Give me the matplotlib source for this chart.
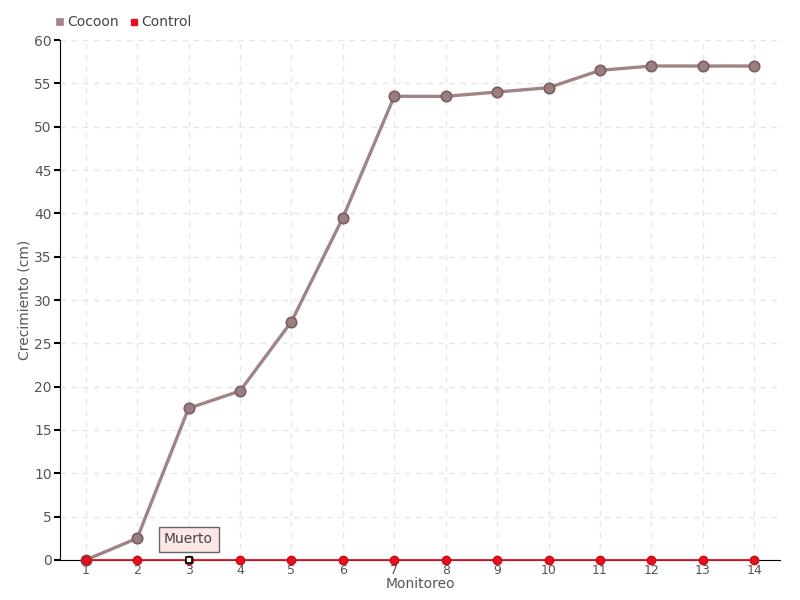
import matplotlib
matplotlib.use("Agg")
import matplotlib.pyplot as plt
import numpy as np

monitoreo = list(range(1, 15))
cocoon = [0, 2.5, 17.5, 19.5, 27.5, 39.5, 53.5, 53.5, 54, 54.5, 56.5, 57, 57, 57]
control = [0] * 14
annot_label = "Muerto"
annot_index = 2

plt.rcParams['font.family'] = ['DejaVu Sans']
fig = plt.figure(figsize=(8, 6), dpi=100)
ax = fig.add_axes([0.075, 0.0667, 0.9, 0.8666])

ax.set_xlim(0.5, 14.5)
ax.set_ylim(0, 60)
ax.set_xticks(monitoreo)
ax.set_yticks(np.arange(0, 61, 5))
ax.grid(True, color='#e6e6e6', linestyle=(0, (4, 4)), linewidth=1)
ax.set_axisbelow(True)
for s in ['top', 'right']:
    ax.spines[s].set_visible(False)
ax.spines['left'].set_color('black')
ax.spines['bottom'].set_color('black')
ax.tick_params(axis='y', length=4, width=1.5, colors='black', labelcolor='#555555', labelsize=10, pad=2)
ax.tick_params(axis='x', length=0, labelcolor='#555555', labelsize=9, pad=3)

ax.plot(monitoreo, cocoon, color='#a08486', linewidth=2.4, marker='o', markersize=7.5,
        markerfacecolor='#9c7e80', markeredgecolor='#7b5e60', markeredgewidth=1.2,
        label='Cocoon', zorder=3, clip_on=False)
ax.plot(monitoreo, control, color='#e8101e', linewidth=1.3, marker='o', markersize=6,
        markerfacecolor='#e8101e', markeredgecolor='#c40d18', markeredgewidth=1,
        label='Control', zorder=4, clip_on=False)
ax.plot([monitoreo[annot_index]], [control[annot_index]], marker='s', markersize=5,
        markerfacecolor='white', markeredgecolor='black', markeredgewidth=1.2, zorder=6, clip_on=False)

ax.annotate(annot_label, xy=(monitoreo[annot_index], control[annot_index]),
            xytext=(0, 15), textcoords='offset points', ha='center', va='center',
            fontsize=10, color='#444444', zorder=7,
            bbox=dict(boxstyle='square,pad=0.4', fc='#fde6e6', ec='#666666', lw=1))

ax.set_xlabel('Monitoreo', color='#555555', fontsize=10, labelpad=0)
ax.set_ylabel('Crecimiento (cm)', color='#555555', fontsize=10, labelpad=2)

leg = fig.legend(handles=ax.get_lines()[:2], loc='upper left', bbox_to_anchor=(0.055, 0.995),
                 ncol=2, frameon=False, fontsize=10, handlelength=0.5, handletextpad=0.3,
                 columnspacing=0.8, labelcolor='#444444')
for h, c in zip(leg.legend_handles, ['#a08486', '#e8101e']):
    h.set_marker('s')
    h.set_linestyle('none')
    h.set_markersize(5)
    h.set_markerfacecolor(c)
    h.set_markeredgecolor(c)

fig.savefig('out.png', dpi=100)
